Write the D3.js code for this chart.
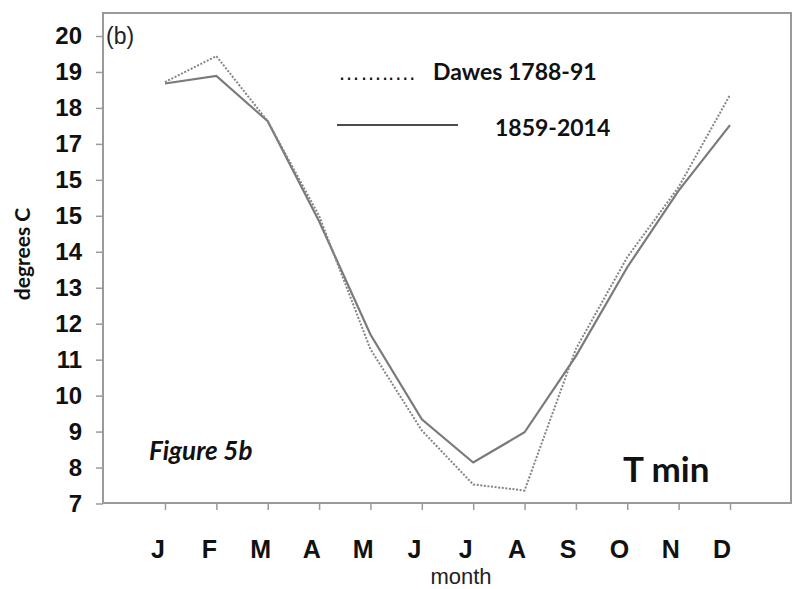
<!DOCTYPE html>
<html><head><meta charset="utf-8">
<script src="https://cdn.jsdelivr.net/npm/d3@7"></script>
<style>body{margin:0;background:#fff}</style>
</head><body><svg id="c" width="798" height="589"></svg>
<script>
// ---- data ----
const months = ["J","F","M","A","M","J","J","A","S","O","N","D"];
const dawes  = [18.72, 19.44, 17.63, 15.0, 11.29, 9.03, 7.53, 7.36, 11.3, 13.85, 15.8, 18.36];
const modern = [18.68, 18.89, 17.63, 14.85, 11.70, 9.34, 8.14, 8.98, 11.1, 13.57, 15.7, 17.52];
const yTickValues = [7,8,9,10,11,12,13,14,15,16,17,18,19,20];
const yTickLabels = ["7","8","9","10","11","12","13","14","15","15","17","18","19","20"];
const seriesNames = ["Dawes 1788-91", "1859-2014"];

(function () {
const svg = d3.select("#c");
const pL = 103, pR = 791, pT = 13, pB = 503;

const x = d3.scaleLinear().domain([0, 11]).range([165, 730]);
const xLab = d3.scaleLinear().domain([0, 11]).range([158, 722]);
const y = d3.scaleLinear().domain([7, 20]).range([503.5, 36]);

// frame
svg.append("rect").attr("x", pL).attr("y", pT)
  .attr("width", pR - pL).attr("height", pB - pT)
  .attr("fill", "none").attr("stroke", "#9a9a9a").attr("stroke-width", 2);

// y axis
const yAxis = d3.axisLeft(y).tickValues(yTickValues).tickSize(7).tickPadding(14)
  .tickFormat((d, i) => yTickLabels[i]);
const gy = svg.append("g").attr("transform", `translate(${pL},0)`).call(yAxis);
gy.select(".domain").remove();
gy.selectAll(".tick line").attr("stroke", "#9a9a9a").attr("stroke-width", 1.5);
gy.selectAll(".tick text").attr("fill", "#111")
  .style("font-family", "'Liberation Sans', Arial, sans-serif")
  .style("font-weight", "bold").style("font-size", "24px");

// x axis ticks
const xAxis = d3.axisBottom(x).tickValues(d3.range(12)).tickSize(7).tickFormat("");
const gx = svg.append("g").attr("transform", `translate(0,${pB})`).call(xAxis);
gx.select(".domain").remove();
gx.selectAll(".tick line").attr("stroke", "#9a9a9a").attr("stroke-width", 1.5);

// x labels
svg.append("g").selectAll("text").data(months).join("text")
  .attr("x", (d, i) => xLab(i)).attr("y", 558)
  .attr("text-anchor", "middle")
  .style("font-family", "'Liberation Sans', Arial, sans-serif")
  .style("font-weight", "bold").style("font-size", "25px").attr("fill", "#111")
  .text(d => d);

// axis titles
svg.append("text").attr("x", 461).attr("y", 584).attr("text-anchor", "middle")
  .style("font-family", "'Liberation Sans', Arial, sans-serif")
  .style("font-size", "22px").attr("fill", "#222").text("month");
svg.append("text").attr("transform", "translate(30,254) rotate(-90)")
  .attr("text-anchor", "middle")
  .style("font-family", "Lato, 'Open Sans', sans-serif")
  .style("font-weight", "bold").style("font-size", "21px").attr("fill", "#111")
  .text("degrees C");

// lines
const line = d3.line().x((d, i) => x(i)).y(d => y(d));
svg.append("path").datum(modern).attr("d", line)
  .attr("fill", "none").attr("stroke", "#7a7a7a").attr("stroke-width", 2.2);
svg.append("path").datum(dawes).attr("d", line)
  .attr("fill", "none").attr("stroke", "#858585").attr("stroke-width", 2)
  .attr("stroke-dasharray", "2,1.6");

// panel label
svg.append("text").attr("x", 106).attr("y", 44)
  .style("font-family", "'Liberation Sans', Arial, sans-serif")
  .style("font-size", "23px").attr("fill", "#222").text("(b)");

// legend
svg.append("text").attr("x", 338).attr("y", 80)
  .style("font-family", "'Liberation Sans', Arial, sans-serif")
  .style("font-size", "22px").attr("fill", "#111").text("……..…");
svg.append("text").attr("x", 433).attr("y", 80)
  .style("font-family", "Lato, sans-serif").style("font-weight", "bold")
  .style("font-size", "23px").attr("fill", "#111").text(seriesNames[0]);
svg.append("line").attr("x1", 337).attr("x2", 458).attr("y1", 125).attr("y2", 125)
  .attr("stroke", "#111").attr("stroke-width", 1.5);
svg.append("text").attr("x", 495).attr("y", 136)
  .style("font-family", "Lato, sans-serif").style("font-weight", "bold")
  .style("font-size", "23px").attr("fill", "#111").text(seriesNames[1]);

// annotations
svg.append("text").attr("x", 149).attr("y", 460)
  .style("font-family", "Lato, sans-serif").style("font-weight", "bold").style("font-style", "italic")
  .style("font-size", "26px").attr("fill", "#111").text("Figure 5b");
svg.append("text").attr("x", 623).attr("y", 482)
  .style("font-family", "Lato, sans-serif").style("font-weight", "bold")
  .style("font-size", "35px").attr("fill", "#111").text("T min");
})();
</script>
</body></html>
